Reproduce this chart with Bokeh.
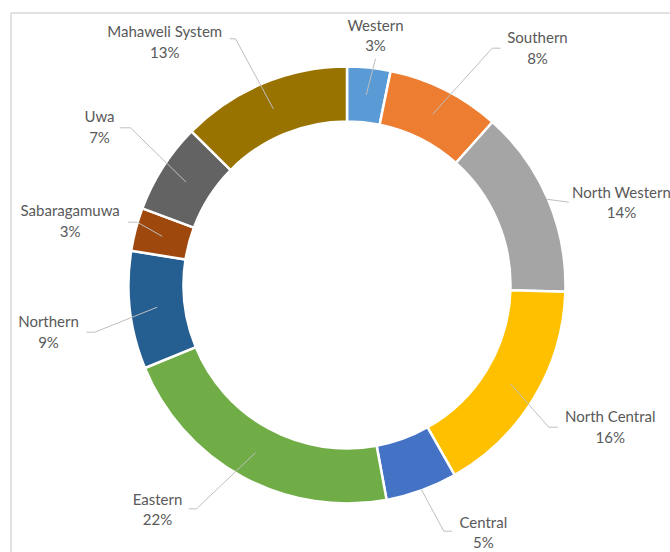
import math
from bokeh.plotting import figure
from bokeh.models import Range1d, ColumnDataSource
from bokeh.core.properties import value
from bokeh.embed import file_html
from bokeh.resources import INLINE

# ---- data ----
regions = ["Western", "Southern", "North Western", "North Central", "Central",
           "Eastern", "Northern", "Sabaragamuwa", "Uwa", "Mahaweli System"]
shares = [3.2, 8.4, 13.9, 16.3, 5.3, 21.7, 8.7, 3.2, 6.7, 12.6]
colors = ["#5B9BD5", "#ED7D31", "#A5A5A5", "#FFC000", "#4472C4",
          "#70AD47", "#255E91", "#9E480E", "#636363", "#997300"]

# ---- layout (page pixel coordinates) ----
W, H = 670, 552
CX, CY = 346.5, 284.5
R_OUT, R_IN = 218.5, 163.5
R_MID = 191.0
# label centre x, first-line baseline y, elbow point, end point, anchor radius
label_layout = [
    (375.0, 31.0, (375.0, 58.3), (375.0, 58.3), R_MID),
    (537.0, 43.5, (491.7, 47.7), (500.0, 47.7), R_MID),
    (621.0, 198.3, (568.3, 201.7), (568.3, 201.7), 217.5),
    (609.8, 422.7, (548.3, 426.7), (557.3, 426.7), R_MID),
    (482.8, 528.3, (443.3, 530.7), (451.7, 530.7), 217.5),
    (157.0, 505.0, (196.0, 508.3), (188.3, 508.3), R_MID),
    (48.0, 327.7, (94.3, 331.7), (86.0, 331.7), R_MID),
    (69.7, 216.7, (136.7, 221.7), (127.7, 221.7), R_MID),
    (99.0, 122.7, (130.0, 127.3), (119.3, 127.3), R_MID),
    (164.2, 37.5, (235.0, 38.3), (229.3, 38.3), R_MID),
]
LINE_GAP = 20.5
TEXT_SHIFT = 7.0   # renderer places alphabetic text lower than requested

def dy(y):
    return H - y

total = sum(shares)
starts, ends, mids = [], [], []
cum = 0.0
for s in shares:
    starts.append(math.pi / 2 - 2 * math.pi * cum / total)
    mids.append(2 * math.pi * (cum + s / 2) / total)
    cum += s
    ends.append(math.pi / 2 - 2 * math.pi * cum / total)

pct = [f"{round(100 * s / total)}%" for s in shares]

wedge_src = ColumnDataSource(dict(start=starts, end=ends, color=colors, name=regions))

p = figure(width=W, height=H, output_backend="svg", toolbar_location=None,
           x_range=Range1d(0, W), y_range=Range1d(0, H), min_border=0)
p.axis.visible = False
p.grid.visible = False
p.outline_line_color = None
p.background_fill_color = "white"
p.border_fill_color = "white"

# chart frame (top and left edges visible)
p.multi_line(xs=[[10.5, 10.5, W], ], ys=[[0, dy(12.5), dy(12.5)]],
             line_color="#D9D9D9", line_width=1.5)

p.annular_wedge(x=CX, y=dy(CY), inner_radius=R_IN, outer_radius=R_OUT,
                start_angle="start", end_angle="end", direction="clock",
                fill_color="color", line_color="white", line_width=2.5,
                source=wedge_src)

# leader lines
xs, ys = [], []
for (lx, lb, elbow, endp, r), th in zip(label_layout, mids):
    ax = CX + r * math.sin(th)
    ay = CY - r * math.cos(th)
    xs.append([ax, elbow[0], endp[0]])
    ys.append([dy(ay), dy(elbow[1]), dy(endp[1])])
p.multi_line(xs=xs, ys=ys, line_color="#BFBFBF", line_width=1)

lab_x = [l[0] for l in label_layout]
name_y = [dy(l[1] - TEXT_SHIFT) for l in label_layout]
pct_y = [dy(l[1] + LINE_GAP - TEXT_SHIFT) for l in label_layout]
p.text(x=lab_x, y=name_y, text=regions, text_font=value("Lato"),
       text_font_size="15px", text_color="#595959", text_align="center",
       text_baseline="alphabetic")
p.text(x=lab_x, y=pct_y, text=pct, text_font=value("Lato"),
       text_font_size="15px", text_color="#595959", text_align="center",
       text_baseline="alphabetic")

open("out.html", "w").write(file_html(p, INLINE))
